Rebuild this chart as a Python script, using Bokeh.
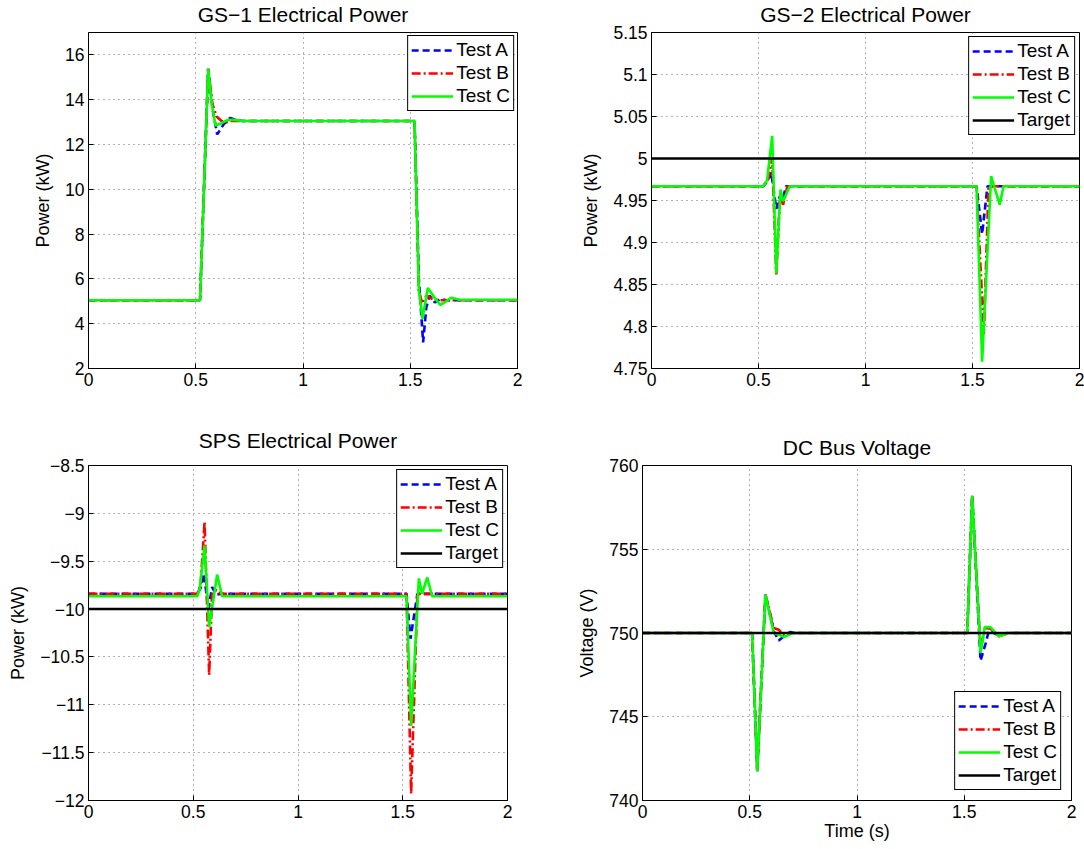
from bokeh.plotting import figure
from bokeh.models import Range1d, FixedTicker, Legend, LegendItem, Title
from bokeh.layouts import column, row
from bokeh.embed import file_html
from bokeh.resources import INLINE

FONT = "Liberation Sans"

# ---------------- data ----------------
x_ticks = [0, 0.5, 1, 1.5, 2]
x_tick_labels = ["0", "0.5", "1", "1.5", "2"]
series_names = ["Test A", "Test B", "Test C"]
target_t = [0, 2]

# GS-1 Electrical Power (kW)
gs1_ticks = [2, 4, 6, 8, 10, 12, 14, 16]
gs1_tick_labels = ["2", "4", "6", "8", "10", "12", "14", "16"]
gs1_t_a = [0, 0.52, 0.54, 0.558, 0.578, 0.60, 0.63, 0.66, 0.69, 0.72, 1.52, 1.54, 1.56, 1.575, 1.59, 1.615, 1.64, 1.67, 2.0]
gs1_p_a = [5.05, 5.05, 10.5, 15.38, 13.6, 12.45, 12.9, 13.19, 13.08, 13.05, 13.05, 6.0, 3.17, 4.74, 5.25, 4.95, 5.1, 5.05, 5.05]
gs1_t_b = [0, 0.52, 0.54, 0.558, 0.578, 0.597, 0.62, 0.64, 0.66, 1.52, 1.54, 1.555, 1.575, 1.60, 1.63, 2.0]
gs1_p_b = [5.05, 5.05, 10.5, 15.38, 13.8, 13.25, 13.05, 12.98, 13.05, 13.05, 5.5, 4.9, 5.25, 5.12, 5.05, 5.05]
gs1_t_c = [0, 0.52, 0.54, 0.558, 0.575, 0.592, 0.62, 0.65, 0.68, 0.72, 1.52, 1.54, 1.557, 1.582, 1.61, 1.64, 1.668, 1.69, 1.73, 2.0]
gs1_p_c = [5.05, 5.05, 10.5, 15.38, 13.8, 12.85, 12.95, 13.1, 13.1, 13.05, 13.05, 5.5, 4.22, 5.6, 5.2, 4.84, 5.0, 5.16, 5.07, 5.07]

# GS-2 Electrical Power (kW)
gs2_ticks = [4.75, 4.8, 4.85, 4.9, 4.95, 5.0, 5.05, 5.1, 5.15]
gs2_tick_labels = ["4.75", "4.8", "4.85", "4.9", "4.95", "5", "5.05", "5.1", "5.15"]
gs2_t_a = [0, 0.522, 0.545, 0.559, 0.583, 0.60, 0.613, 0.628, 1.519, 1.545, 1.57, 2.0]
gs2_p_a = [4.967, 4.967, 4.974, 4.984, 4.94, 4.955, 4.95, 4.967, 4.967, 4.91, 4.967, 4.967]
gs2_t_b = [0, 0.522, 0.545, 0.564, 0.583, 0.60, 0.615, 0.635, 1.519, 1.553, 1.575, 2.0]
gs2_p_b = [4.967, 4.967, 4.975, 5.0, 4.862, 4.955, 4.945, 4.967, 4.967, 4.791, 4.967, 4.967]
gs2_t_c = [0, 0.522, 0.54, 0.564, 0.583, 0.603, 0.615, 0.646, 1.519, 1.545, 1.587, 1.627, 1.645, 2.0]
gs2_p_c = [4.967, 4.967, 4.974, 5.027, 4.863, 4.963, 4.949, 4.967, 4.967, 4.758, 4.979, 4.945, 4.967, 4.967]
gs2_target = [5.0, 5.0]

# SPS Electrical Power (kW)
sps_ticks = [-12, -11.5, -11, -10.5, -10, -9.5, -9, -8.5]
sps_tick_labels = ["\u221212", "\u221211.5", "\u221211", "\u221210.5", "\u221210", "\u22129.5", "\u22129", "\u22128.5"]
sps_t_a = [0, 0.519, 0.535, 0.551, 0.572, 0.59, 0.61, 0.63, 1.518, 1.537, 1.57, 2.0]
sps_p_a = [-9.841, -9.841, -9.78, -9.63, -10.0, -9.77, -9.85, -9.841, -9.841, -10.31, -9.841, -9.841]
sps_t_b = [0, 0.519, 0.535, 0.554, 0.576, 0.59, 0.61, 0.63, 1.518, 1.54, 1.57, 2.0]
sps_p_b = [-9.841, -9.841, -9.75, -9.09, -10.69, -9.841, -9.80, -9.841, -9.841, -11.93, -9.841, -9.841]
sps_t_c = [0, 0.519, 0.531, 0.554, 0.576, 0.614, 0.638, 1.518, 1.540, 1.577, 1.592, 1.617, 1.64, 2.0]
sps_p_c = [-9.866, -9.866, -9.79, -9.336, -10.19, -9.64, -9.866, -9.866, -11.22, -9.68, -9.84, -9.67, -9.866, -9.866]
sps_target = [-10.0, -10.0]

# DC Bus Voltage (V)
dc_ticks = [740, 745, 750, 755, 760]
dc_tick_labels = ["740", "745", "750", "755", "760"]
dc_t_a = [0, 0.511, 0.535, 0.573, 0.612, 0.635, 0.66, 0.687, 0.72, 1.514, 1.537, 1.576, 1.599, 1.615, 1.66, 1.70, 2.0]
dc_v_a = [750, 750, 741.75, 752.3, 750.1, 749.55, 749.8, 750.05, 750, 750, 758.2, 748.35, 749.35, 750.15, 749.85, 750, 750]
dc_t_b = [0, 0.511, 0.535, 0.573, 0.612, 0.635, 0.66, 0.70, 1.514, 1.537, 1.576, 1.596, 1.622, 1.661, 1.708, 2.0]
dc_v_b = [750, 750, 741.75, 752.3, 750.3, 750.2, 749.85, 750, 750, 758.2, 749.0, 750.3, 750.25, 749.8, 750, 750]
dc_t_c = [0, 0.511, 0.535, 0.573, 0.612, 0.636, 0.659, 0.70, 1.514, 1.537, 1.576, 1.596, 1.622, 1.661, 1.708, 2.0]
dc_v_c = [750, 750, 741.75, 752.3, 750.0, 749.9, 749.75, 750, 750, 758.2, 748.8, 750.35, 750.35, 749.8, 750, 750]
dc_target = [750, 750]

# ---------------- styles ----------------
STYLES = [
    dict(line_color="#0000ff", line_dash="7 4", line_width=2.6),
    dict(line_color="#ff0000", line_dash="9 3 2 3", line_width=2.6),
    dict(line_color="#00ff00", line_dash="solid", line_width=2.6),
]
TARGET_STYLE = dict(line_color="#000000", line_width=2.6)


def make_fig(title, ylabel, yr, yticks, ylabels, series, target, legend_loc, legend_margin,
             borders, width, height, title_space, xlabel=None):
    left, right, top, bottom = borders
    p = figure(width=width, height=height, output_backend="svg", toolbar_location=None,
               x_range=Range1d(0, 2), y_range=Range1d(*yr),
               min_border_left=left, min_border_right=right,
               min_border_top=top, min_border_bottom=bottom)
    # real title outermost, a blank spacer title between it and the frame
    p.title.text = title
    p.title.align = "center"
    p.title.text_font = FONT
    p.title.text_font_size = "21px"
    p.title.text_font_style = "normal"
    p.title.text_color = "black"
    p.title.standoff = 0
    p.add_layout(Title(text=" ", text_font_size="1px", standoff=title_space), "above")
    p.outline_line_color = "black"
    p.outline_line_alpha = 1
    p.outline_line_width = 1
    p.background_fill_color = "white"
    p.border_fill_color = "white"

    p.xaxis.ticker = FixedTicker(ticks=x_ticks)
    p.xaxis.major_label_overrides = dict(zip(x_ticks, x_tick_labels))
    p.yaxis.ticker = FixedTicker(ticks=yticks)
    p.yaxis.major_label_overrides = dict(zip(yticks, ylabels))
    for ax in (p.xaxis, p.yaxis):
        ax.major_label_text_font = FONT
        ax.major_label_text_font_size = "17.5px"
        ax.major_label_text_color = "black"
        ax.axis_label_text_font = FONT
        ax.axis_label_text_font_size = "18px"
        ax.axis_label_text_font_style = "normal"
        ax.axis_label_text_color = "black"
        ax.major_tick_in = 5
        ax.major_tick_out = 0
        ax.minor_tick_line_color = None
        ax.axis_line_color = "black"
        ax.major_tick_line_color = "black"
        ax.major_label_standoff = 4
    p.yaxis.axis_label = ylabel
    p.yaxis.axis_label_standoff = 9
    if xlabel:
        p.xaxis.axis_label = xlabel
        p.xaxis.axis_label_standoff = 0
    p.xgrid.ticker = FixedTicker(ticks=x_ticks)
    p.ygrid.ticker = FixedTicker(ticks=yticks)
    for g in (p.xgrid, p.ygrid):
        g.grid_line_color = "#666666"
        g.grid_line_dash = "1 4"
        g.grid_line_width = 1

    items = []
    for (t, v), name, st in zip(series, series_names, STYLES):
        r = p.line(t, v, **st)
        items.append(LegendItem(label=name, renderers=[r]))
    if target is not None:
        r = p.line(target_t, target, **TARGET_STYLE)
        items.append(LegendItem(label="Target", renderers=[r]))

    leg = Legend(items=items, location=legend_loc)
    leg.label_text_font = FONT
    leg.label_text_font_size = "19px"
    leg.label_text_color = "black"
    leg.border_line_color = "black"
    leg.border_line_width = 1
    leg.border_line_alpha = 1
    leg.background_fill_color = "white"
    leg.background_fill_alpha = 1
    leg.glyph_width = 42
    leg.glyph_height = 20
    leg.label_height = 20
    leg.label_standoff = 3
    leg.spacing = 1
    leg.padding = 3
    leg.margin = legend_margin
    p.add_layout(leg)
    return p


p1 = make_fig("GS\u22121 Electrical Power", "Power (kW)", (2, 17), gs1_ticks, gs1_tick_labels,
              [(gs1_t_a, gs1_p_a), (gs1_t_b, gs1_p_b), (gs1_t_c, gs1_p_c)], None,
              "top_right", 3, (88, 25, 32, 56), 542, 424, 4)
p2 = make_fig("GS\u22122 Electrical Power", "Power (kW)", (4.75, 5.15), gs2_ticks, gs2_tick_labels,
              [(gs2_t_a, gs2_p_a), (gs2_t_b, gs2_p_b), (gs2_t_c, gs2_p_c)], gs2_target,
              "top_right", 4, (109, 5, 32, 56), 542, 424, 4)
p3 = make_fig("SPS Electrical Power", "Power (kW)", (-12, -8.5), sps_ticks, sps_tick_labels,
              [(sps_t_a, sps_p_a), (sps_t_b, sps_p_b), (sps_t_c, sps_p_c)], sps_target,
              "top_right", 4, (88, 35, 41, 49), 542, 425, 11)
p4 = make_fig("DC Bus Voltage", "Voltage (V)", (740, 760), dc_ticks, dc_tick_labels,
              [(dc_t_a, dc_v_a), (dc_t_b, dc_v_b), (dc_t_c, dc_v_c)], dc_target,
              "bottom_right", 10, (100, 13, 41, 49), 542, 425, 4, xlabel="Time (s)")

layout = column(row(p1, p2, spacing=0), row(p3, p4, spacing=0), spacing=0)

with open("out.html", "w") as f:
    f.write(file_html(layout, INLINE))
